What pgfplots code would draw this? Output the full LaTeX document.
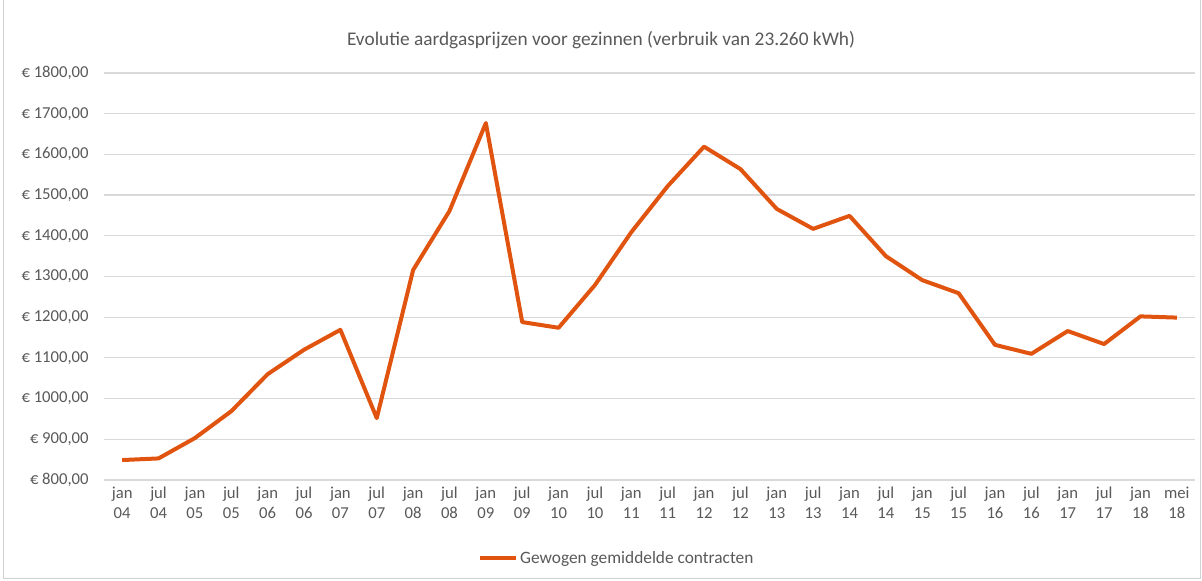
\documentclass[border=0pt]{standalone}
\usepackage{fontspec}
\setmainfont{Carlito}
\usepackage{pgfplots}
\pgfplotsset{compat=1.18}
\definecolor{LineOrange}{HTML}{E0540F}
\definecolor{TxtGray}{HTML}{595959}
\definecolor{GridGray}{HTML}{D9D9D9}

\begin{document}
\begin{tikzpicture}[x=0.75pt,y=0.75pt]
% canvas 1202 x 581 px, plot area origin at px (104,480)
\useasboundingbox (-104,-101) rectangle (1098,480);
\draw[gray!35,line width=0.75pt] (-100,-99) rectangle (1096,482);
\begin{axis}[
  at={(0,0)}, anchor=south west,
  scale only axis,
  width=818.25pt, height=305.25pt,
  xmin=-0.5, xmax=29.5,
  ymin=800, ymax=1800,
  ytick={800,900,...,1800},
  xtick={0,...,29},
  xticklabels={jan\\04,jul\\04,jan\\05,jul\\05,jan\\06,jul\\06,jan\\07,jul\\07,jan\\08,jul\\08,
    jan\\09,jul\\09,jan\\10,jul\\10,jan\\11,jul\\11,jan\\12,jul\\12,jan\\13,jul\\13,
    jan\\14,jul\\14,jan\\15,jul\\15,jan\\16,jul\\16,jan\\17,jul\\17,jan\\18,mei\\18},
  xticklabel style={align=center,font=\fontsize{12.5}{15}\selectfont,text=TxtGray,yshift=-2pt},
  yticklabel style={font=\fontsize{12.5}{15}\selectfont,text=TxtGray,xshift=-8pt},
  yticklabel={€ \pgfmathprintnumber[fixed,fixed zerofill,precision=2,use comma,1000 sep={}]{\tick}},
  /pgf/number format/assume math mode=true,
  axis line style={draw=none},
  major tick length=0pt,
  ymajorgrids=true,
  grid style={GridGray,line width=0.9pt},
  legend style={at={(0.470,-0.192)},anchor=center,draw=none,fill=none,
    font=\fontsize{13}{15}\selectfont,text=TxtGray,
    legend cell align=left},
  legend image code/.code={\draw[#1,line width=3pt] (0pt,0pt) -- (27pt,0pt);},
  clip=false,
]
\addplot[LineOrange,line width=3pt,line join=round] coordinates {
  (0,849) (1,853) (2,903) (3,969) (4,1060) (5,1120) (6,1169) (7,952)
  (8,1316) (9,1461) (10,1677) (11,1188) (12,1174) (13,1279) (14,1409)
  (15,1522) (16,1619) (17,1564) (18,1466) (19,1417) (20,1449) (21,1350)
  (22,1291) (23,1259) (24,1132) (25,1110) (26,1166) (27,1134) (28,1202) (29,1199)
};
\addlegendentry{Gewogen gemiddelde contracten}
\end{axis}
\node[text=TxtGray,font=\fontsize{14.5}{17}\selectfont] at (497,440) {Evolutie aardgasprijzen voor gezinnen (verbruik van 23.260 kWh)};
\end{tikzpicture}
\end{document}
